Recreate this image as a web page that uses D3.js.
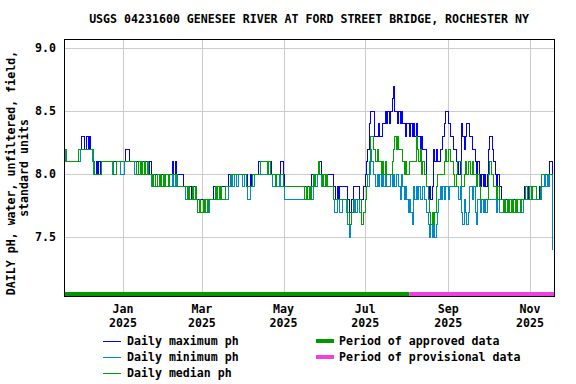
<!DOCTYPE html>
<html>
<head>
<meta charset="utf-8">
<script src="https://cdn.jsdelivr.net/npm/d3@7"></script>
<style>
  body { margin: 0; background: #fff; }
  text { font-family: "DejaVu Sans Mono", monospace; font-weight: bold; font-size: 11.6px; fill: #000; }
</style>
</head>
<body>
<svg width="576" height="384"></svg>
<script>
// daily values, first day 2024-11-18, one value per day
var startDate = "2024-11-18";
var endDate = "2025-11-19";
var approvedUntil = "2025-08-03";

var maxPh = [
  8.2,8.2,8.1,8.1,8.1,8.1,8.1,8.1,8.1,8.1,
  8.1,8.2,8.2,8.3,8.3,8.2,8.2,8.3,8.2,8.3,
  8.2,8.2,8.1,8.0,8.1,8.0,8.1,8.0,8.1,8.1,
  8.1,8.1,8.1,8.1,8.1,8.1,8.1,8.1,8.1,8.1,
  8.1,8.1,8.1,8.1,8.1,8.1,8.2,8.2,8.2,8.1,
  8.1,8.1,8.1,8.1,8.1,8.1,8.1,8.1,8.1,8.1,
  8.1,8.1,8.1,8.0,8.1,8.0,8.0,8.0,8.0,8.0,
  8.0,8.0,8.0,8.0,8.0,8.0,8.0,8.0,8.0,8.0,
  8.0,8.1,8.0,8.1,8.0,8.0,8.0,8.0,8.0,7.9,
  7.9,7.9,7.9,7.9,7.9,7.8,7.9,7.9,7.9,7.8,
  7.8,7.8,7.8,7.8,7.8,7.8,7.8,7.8,7.8,7.8,
  7.8,7.8,7.9,7.9,7.8,7.9,7.9,7.9,7.9,7.9,
  7.9,7.9,7.9,8.0,8.0,8.0,8.0,8.0,8.0,8.0,
  8.0,8.0,8.0,8.0,8.0,8.0,8.0,7.9,7.9,8.0,
  7.9,8.0,8.0,8.0,8.0,8.1,8.1,8.1,8.1,8.1,
  8.1,8.1,8.1,8.1,8.1,8.0,8.0,8.0,8.0,8.0,
  8.0,8.0,8.1,8.1,8.0,7.9,7.9,7.9,7.9,7.9,
  7.9,7.9,7.9,7.9,7.9,7.9,7.9,7.9,7.9,7.9,
  7.9,7.9,7.9,7.9,7.9,8.0,7.9,8.0,8.0,8.0,
  8.1,8.1,8.0,8.0,8.0,8.0,8.0,8.0,8.0,8.0,
  8.0,7.9,7.9,7.8,7.9,7.8,7.9,7.9,7.9,7.9,
  7.9,7.9,7.8,7.7,7.7,7.8,7.9,7.9,7.9,7.9,
  7.9,7.8,7.8,7.8,7.9,8.0,8.1,8.2,8.4,8.5,
  8.5,8.5,8.3,8.3,8.3,8.4,8.3,8.3,8.4,8.4,
  8.5,8.4,8.5,8.4,8.5,8.6,8.7,8.5,8.5,8.4,
  8.5,8.4,8.5,8.4,8.4,8.3,8.4,8.4,8.3,8.4,
  8.3,8.4,8.3,8.4,8.3,8.3,8.2,8.3,8.2,8.2,
  8.2,7.9,7.8,7.9,7.8,7.9,8.2,8.1,8.2,8.1,
  8.1,8.2,8.2,8.3,8.4,8.5,8.5,8.4,8.4,8.3,
  8.3,8.2,8.2,8.1,8.1,8.0,8.1,8.4,8.3,8.2,
  8.3,8.4,8.4,8.3,8.3,8.2,8.2,8.1,8.0,8.1,
  8.0,7.9,8.0,7.9,8.0,7.9,8.0,8.2,8.3,8.3,
  8.2,8.1,8.0,7.9,8.0,7.9,7.9,7.8,7.8,7.8,
  7.8,7.8,7.8,7.8,7.8,7.8,7.8,7.8,7.8,7.8,
  7.8,7.8,7.8,7.8,7.9,7.9,7.8,7.9,7.9,7.8,
  7.9,7.9,7.9,7.8,7.8,7.9,7.9,8.0,8.0,8.0,
  8.0,8.0,8.0,8.1,8.1,8.0
];

var minPh = [
  8.2,8.1,8.1,8.1,8.1,8.1,8.1,8.1,8.1,8.1,
  8.1,8.1,8.2,8.2,8.2,8.2,8.2,8.2,8.2,8.2,
  8.2,8.1,8.0,8.0,8.0,8.0,8.0,8.0,8.1,8.1,
  8.1,8.1,8.1,8.1,8.1,8.1,8.0,8.0,8.0,8.1,
  8.1,8.1,8.0,8.0,8.0,8.1,8.1,8.1,8.1,8.1,
  8.1,8.1,8.1,8.0,8.0,8.0,8.0,8.0,8.0,8.0,
  8.0,8.0,8.0,8.0,8.0,7.9,7.9,7.9,7.9,7.9,
  7.9,7.9,7.9,7.9,7.9,7.9,7.9,7.9,7.9,7.9,
  7.9,8.0,7.9,8.0,7.9,7.9,7.9,7.9,7.9,7.9,
  7.9,7.8,7.8,7.8,7.8,7.8,7.8,7.8,7.8,7.8,
  7.7,7.7,7.7,7.7,7.7,7.7,7.7,7.7,7.7,7.8,
  7.8,7.8,7.8,7.8,7.8,7.8,7.8,7.8,7.8,7.8,
  7.8,7.8,7.8,7.9,7.9,8.0,7.9,8.0,8.0,7.9,
  8.0,8.0,8.0,7.9,7.9,8.0,7.9,7.8,7.8,7.9,
  7.9,7.9,8.0,8.0,8.0,8.0,8.0,8.0,8.0,8.0,
  8.0,8.0,8.0,8.0,8.0,8.0,7.9,7.9,7.9,7.9,
  7.9,8.0,7.9,7.9,7.9,7.8,7.8,7.8,7.8,7.8,
  7.8,7.8,7.8,7.8,7.8,7.8,7.8,7.8,7.8,7.8,
  7.8,7.8,7.8,7.8,7.8,7.8,7.9,7.9,7.9,8.0,
  8.0,8.0,7.9,7.9,7.9,7.9,7.9,7.9,7.9,7.9,
  7.9,7.8,7.7,7.7,7.8,7.8,7.7,7.7,7.8,7.8,
  7.8,7.7,7.6,7.5,7.6,7.7,7.7,7.8,7.7,7.8,
  7.8,7.7,7.6,7.6,7.7,7.8,7.9,7.9,8.0,8.2,
  8.1,8.0,8.0,7.9,8.0,7.9,8.0,7.9,8.0,7.9,
  8.0,7.9,7.9,7.9,8.0,7.9,8.0,7.9,8.0,8.0,
  7.9,7.8,8.0,7.9,7.8,7.9,7.8,7.7,7.8,7.7,
  7.6,7.9,7.8,7.9,7.8,7.9,7.8,7.8,7.9,7.8,
  7.8,7.7,7.6,7.5,7.6,7.5,7.6,7.5,7.6,7.7,
  7.8,7.9,7.8,7.9,7.8,7.9,7.9,7.8,7.9,7.9,
  7.9,7.9,7.9,7.9,7.9,7.8,7.9,7.7,7.6,7.8,
  7.7,7.6,7.7,7.9,7.9,7.8,7.9,7.7,7.6,7.8,
  7.8,7.7,7.8,7.7,7.8,7.7,7.8,7.8,7.8,7.8,
  7.8,7.8,7.8,7.7,7.8,7.7,7.7,7.7,7.7,7.7,
  7.7,7.7,7.7,7.7,7.7,7.7,7.7,7.7,7.7,7.7,
  7.7,7.7,7.7,7.8,7.8,7.8,7.8,7.8,7.8,7.8,
  7.8,7.8,7.8,7.8,7.8,7.8,7.8,7.9,7.9,8.0,
  7.9,8.0,7.9,8.0,8.0,7.4
];

var medianPh = [
  8.2,8.2,8.1,8.1,8.1,8.1,8.1,8.1,8.1,8.1,
  8.1,8.2,8.2,8.2,8.2,8.2,8.2,8.2,8.2,8.2,
  8.2,8.2,8.1,8.0,8.0,8.0,8.0,8.0,8.1,8.1,
  8.1,8.1,8.1,8.1,8.1,8.1,8.1,8.0,8.0,8.1,
  8.1,8.1,8.1,8.1,8.1,8.1,8.1,8.1,8.1,8.1,
  8.1,8.1,8.1,8.1,8.0,8.0,8.1,8.0,8.1,8.0,
  8.1,8.0,8.1,8.0,8.0,8.0,7.9,8.0,7.9,7.9,
  8.0,7.9,8.0,7.9,8.0,7.9,8.0,8.0,7.9,8.0,
  8.0,8.0,8.0,8.0,8.0,7.9,7.9,7.9,7.9,7.9,
  7.9,7.9,7.8,7.9,7.8,7.8,7.9,7.8,7.9,7.8,
  7.7,7.8,7.7,7.7,7.8,7.7,7.8,7.7,7.8,7.8,
  7.8,7.8,7.8,7.9,7.8,7.9,7.8,7.9,7.8,7.8,
  7.8,7.9,7.9,7.9,8.0,8.0,8.0,8.0,8.0,8.0,
  8.0,8.0,8.0,8.0,8.0,8.0,7.9,7.9,7.9,7.9,
  7.9,8.0,8.0,8.0,8.0,8.0,8.0,8.1,8.1,8.1,
  8.1,8.1,8.0,8.1,8.0,8.0,8.0,8.0,7.9,8.0,
  8.0,8.0,8.0,8.0,7.9,7.9,7.9,7.9,7.9,7.9,
  7.9,7.9,7.9,7.9,7.9,7.9,7.9,7.9,7.9,7.9,
  7.8,7.9,7.8,7.9,7.8,7.9,8.0,7.9,8.0,8.0,
  8.1,8.0,8.0,7.9,8.0,7.9,8.0,7.9,7.9,7.9,
  7.9,7.8,7.8,7.8,7.8,7.8,7.8,7.8,7.8,7.8,
  7.8,7.8,7.7,7.6,7.6,7.7,7.8,7.8,7.8,7.8,
  7.8,7.8,7.6,7.6,7.7,7.8,7.9,8.0,8.1,8.3,
  8.3,8.2,8.2,8.1,8.2,8.1,8.1,8.0,8.1,8.0,
  8.1,8.0,8.0,8.0,8.0,8.1,8.2,8.3,8.2,8.3,
  8.2,8.2,8.2,8.1,8.0,8.1,8.0,8.0,8.1,8.1,
  8.1,8.1,8.1,8.3,8.2,8.1,8.2,8.0,8.1,8.0,
  8.0,7.9,7.8,7.7,7.6,7.7,7.6,7.7,7.9,8.0,
  8.0,8.0,8.0,8.0,8.1,8.2,8.1,8.2,8.2,8.1,
  8.1,8.0,7.9,8.0,8.1,8.1,8.1,7.9,7.9,8.0,
  8.1,8.0,8.1,8.1,8.0,8.1,8.0,8.0,7.9,8.0,
  7.9,7.8,7.8,7.8,7.8,7.8,7.8,8.0,8.1,8.0,
  8.0,7.9,7.9,7.8,7.9,7.8,7.8,7.8,7.7,7.8,
  7.7,7.8,7.7,7.8,7.7,7.8,7.7,7.8,7.7,7.8,
  7.8,7.7,7.8,7.8,7.8,7.9,7.8,7.8,7.9,7.8,
  7.9,7.9,7.9,7.8,7.8,7.8,7.9,8.0,8.0,8.0,
  8.0,8.0,8.0,8.0,8.0,8.0
];

var yTicks = [7.5, 8.0, 8.5, 9.0];
var xTicks = ["2025-01-01", "2025-03-01", "2025-05-01", "2025-07-01", "2025-09-01", "2025-11-01"];

var title = "USGS 04231600 GENESEE RIVER AT FORD STREET BRIDGE, ROCHESTER NY";
var yTitle = ["DAILY pH, water, unfiltered, field,", "standard units"];

var series = [
  { label: "Daily maximum ph", values: maxPh, color: "#0000ff" },
  { label: "Daily minimum ph", values: minPh, color: "#0088cc" },
  { label: "Daily median ph", values: medianPh, color: "#00a000" }
];
var periods = [
  { label: "Period of approved data", color: "#009900" },
  { label: "Period of provisional data", color: "#f040e0" }
];

var parse = d3.timeParse("%Y-%m-%d");
var t0 = parse(startDate), t1 = parse(endDate), tA = parse(approvedUntil);

var svg = d3.select("svg");
var plotLeft = 64, plotRight = 554, plotTop = 39, plotBottom = 296;

var x = d3.scaleTime().domain([t0, t1]).range([plotLeft, plotRight]);
var y = d3.scaleLinear().domain([7.03, 9.07]).range([plotBottom, plotTop]);

// grid
svg.append("g")
  .selectAll("line")
  .data(yTicks)
  .enter().append("line")
    .attr("x1", plotLeft).attr("x2", plotRight)
    .attr("y1", function(d) { return Math.round(y(d)) + 0.5; })
    .attr("y2", function(d) { return Math.round(y(d)) + 0.5; })
    .style("stroke", "#cccccc");

svg.append("g")
  .selectAll("line")
  .data(xTicks.map(parse))
  .enter().append("line")
    .attr("x1", function(d) { return Math.round(x(d)) + 0.5; })
    .attr("x2", function(d) { return Math.round(x(d)) + 0.5; })
    .attr("y1", plotTop).attr("y2", plotBottom)
    .style("stroke", "#cccccc");

// data lines
var line = d3.line()
  .x(function(d, i) { return x(d3.timeHour.offset(d3.timeDay.offset(t0, i), 12)); })
  .y(function(d) { return Math.round(y(d)) + 0.5; })
  .curve(d3.curveStep);

series.forEach(function(s) {
  svg.append("path")
    .attr("d", line(s.values))
    .style("fill", "none")
    .style("stroke", s.color)
    .style("stroke-width", 1)
    .style("shape-rendering", "crispEdges");
});

// approval bars
svg.append("rect")
  .attr("x", x(t0)).attr("y", plotBottom - 4)
  .attr("width", x(tA) - x(t0)).attr("height", 4)
  .style("fill", periods[0].color);
svg.append("rect")
  .attr("x", x(tA)).attr("y", plotBottom - 4)
  .attr("width", x(t1) - x(tA)).attr("height", 4)
  .style("fill", periods[1].color);

// frame
svg.append("rect")
  .attr("x", plotLeft + 0.5).attr("y", plotTop + 0.5)
  .attr("width", plotRight - plotLeft).attr("height", plotBottom - plotTop)
  .style("fill", "none").style("stroke", "#000").style("stroke-width", 1);

// y axis labels
svg.append("g")
  .selectAll("text")
  .data(yTicks)
  .enter().append("text")
    .attr("x", 56)
    .attr("y", function(d) { return y(d); })
    .attr("dy", "0.35em")
    .attr("text-anchor", "end")
    .text(function(d) { return d3.format(".1f")(d); });

// x axis labels, two lines
var xl = svg.append("g")
  .selectAll("text")
  .data(xTicks.map(parse))
  .enter().append("text")
    .attr("text-anchor", "middle");
xl.append("tspan")
  .attr("x", function(d) { return x(d); }).attr("y", 313)
  .text(d3.timeFormat("%b"));
xl.append("tspan")
  .attr("x", function(d) { return x(d); }).attr("y", 327)
  .text(d3.timeFormat("%Y"));

// title
svg.append("text")
  .attr("x", (plotLeft + plotRight) / 2).attr("y", 23)
  .attr("text-anchor", "middle")
  .text(title);

// y title
svg.append("text")
  .attr("transform", "translate(15,173) rotate(-90)")
  .attr("text-anchor", "middle")
  .text(yTitle[0]);
svg.append("text")
  .attr("transform", "translate(28,168) rotate(-90)")
  .attr("text-anchor", "middle")
  .text(yTitle[1]);

// legend
var leg = svg.append("g");
series.forEach(function(s, i) {
  var ly = 341 + i * 16;
  leg.append("line")
    .attr("x1", 103).attr("x2", 121)
    .attr("y1", ly + 0.5).attr("y2", ly + 0.5)
    .style("stroke", s.color)
    .style("shape-rendering", "crispEdges");
  leg.append("text")
    .attr("x", 127).attr("y", ly).attr("dy", "0.35em")
    .text(s.label);
});
periods.forEach(function(p, i) {
  var ly = 341 + i * 16;
  leg.append("rect")
    .attr("x", 316).attr("y", ly - 2)
    .attr("width", 18).attr("height", 4)
    .style("fill", p.color);
  leg.append("text")
    .attr("x", 339).attr("y", ly).attr("dy", "0.35em")
    .text(p.label);
});
</script>
</body>
</html>
